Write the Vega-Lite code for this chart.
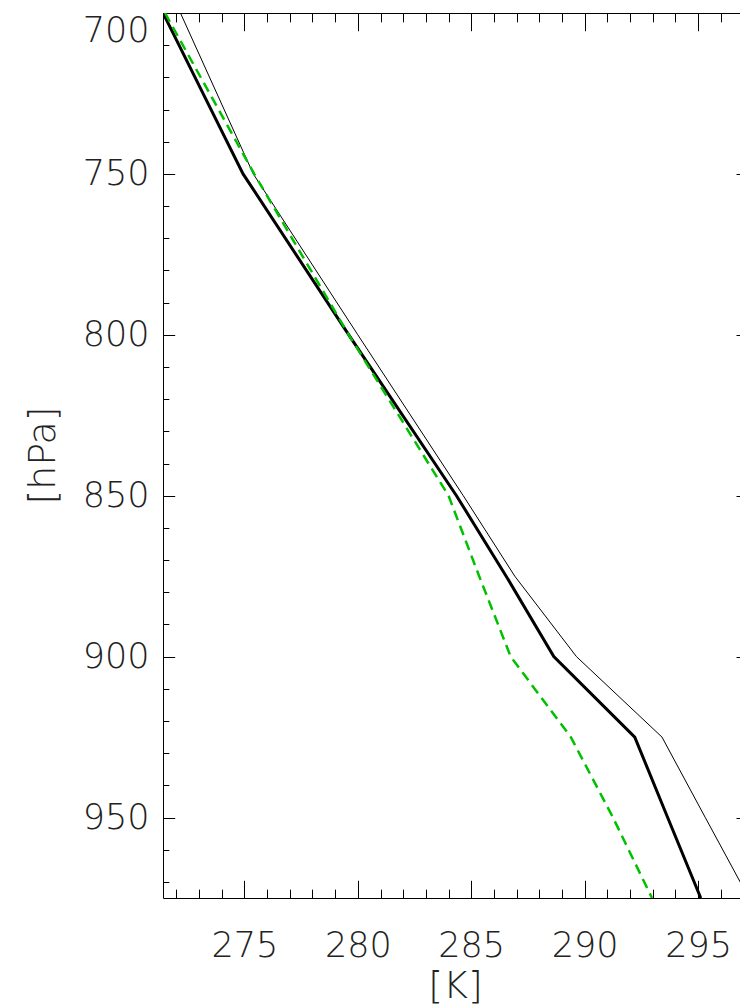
{
  "$schema": "https://vega.github.io/schema/vega-lite/v6.json",
  "autosize": {"type": "none"},
  "padding": {"left": 163, "top": 13, "right": 0, "bottom": 108},
  "width": 577,
  "height": 885,
  "background": "white",
  "config": {
    "view": {"stroke": null},
    "axis": {"grid": false, "domainColor": "#000", "tickColor": "#000", "domainWidth": 1, "tickWidth": 1, "labelFont": "DejaVu Sans", "labelFontWeight": 200, "labelFontSize": 35, "labelColor": "#222", "titleFont": "DejaVu Sans", "titleFontWeight": 200, "titleFontSize": 38, "titleColor": "#222"}
  },
  "data": {
    "values": [
      {"series": "thick", "p": 700, "T": 271.41},
      {"series": "thick", "p": 750, "T": 274.94},
      {"series": "thick", "p": 800, "T": 279.6},
      {"series": "thick", "p": 850, "T": 284.35},
      {"series": "thick", "p": 875, "T": 286.54},
      {"series": "thick", "p": 900, "T": 288.64},
      {"series": "thick", "p": 925, "T": 292.21},
      {"series": "thick", "p": 950, "T": 293.66},
      {"series": "thick", "p": 975, "T": 295.12},
      {"series": "thin", "p": 700, "T": 272.18},
      {"series": "thin", "p": 750, "T": 275.39},
      {"series": "thin", "p": 800, "T": 280.0},
      {"series": "thin", "p": 850, "T": 284.65},
      {"series": "thin", "p": 875, "T": 286.92},
      {"series": "thin", "p": 900, "T": 289.64},
      {"series": "thin", "p": 925, "T": 293.41},
      {"series": "thin", "p": 950, "T": 295.32},
      {"series": "thin", "p": 975, "T": 297.24},
      {"series": "green", "p": 700, "T": 271.5},
      {"series": "green", "p": 750, "T": 275.43},
      {"series": "green", "p": 800, "T": 279.6},
      {"series": "green", "p": 850, "T": 284.0},
      {"series": "green", "p": 875, "T": 285.35},
      {"series": "green", "p": 900, "T": 286.74},
      {"series": "green", "p": 925, "T": 289.39},
      {"series": "green", "p": 950, "T": 291.25},
      {"series": "green", "p": 975, "T": 292.97}
    ]
  },
  "encoding": {
    "x": {"field": "T", "type": "quantitative", "scale": {"domain": [271.41, 296.85], "nice": false, "zero": false}},
    "y": {"field": "p", "type": "quantitative", "scale": {"domain": [700, 975], "reverse": true, "nice": false, "zero": false}}
  },
  "resolve": {"axis": {"x": "independent", "y": "independent"}},
  "layer": [
    {
      "transform": [{"filter": "datum.series === 'thick'"}],
      "mark": {"type": "line", "color": "#000", "strokeWidth": 3, "clip": true},
      "encoding": {
        "x": {"field": "T", "type": "quantitative", "axis": {"orient": "bottom", "values": [275, 280, 285, 290, 295], "ticks": false, "domain": true, "labels": true, "labelPadding": 30, "labelFlush": false, "title": "[K]", "titleX": 292, "titleY": 99, "titleBaseline": "alphabetic", "titleAlign": "center"}},
        "y": {"field": "p", "type": "quantitative", "axis": {"orient": "left", "values": [700, 750, 800, 850, 900, 950], "ticks": false, "domain": true, "labels": true, "labelPadding": 14, "labelFlush": true, "title": "[hPa]", "titleAngle": -90, "titleX": -109, "titleY": 442, "titleBaseline": "alphabetic", "titleAlign": "center"}}
      }
    },
    {
      "transform": [{"filter": "datum.series === 'thin'"}],
      "mark": {"type": "line", "color": "#000", "strokeWidth": 1, "clip": true},
      "encoding": {
        "x": {"field": "T", "type": "quantitative", "axis": {"orient": "bottom", "values": [275, 280, 285, 290, 295], "ticks": true, "tickSize": -17.7, "domain": false, "labels": false, "title": null}},
        "y": {"field": "p", "type": "quantitative", "axis": {"orient": "left", "values": [700, 750, 800, 850, 900, 950], "ticks": true, "tickSize": -11.7, "domain": false, "labels": false, "title": null}}
      }
    },
    {
      "transform": [{"filter": "datum.series === 'green'"}],
      "mark": {"type": "line", "color": "#00c000", "strokeWidth": 2.5, "strokeDash": [10, 6], "clip": true},
      "encoding": {
        "x": {"field": "T", "type": "quantitative", "axis": {"orient": "bottom", "values": [272, 273, 274, 276, 277, 278, 279, 281, 282, 283, 284, 286, 287, 288, 289, 291, 292, 293, 294, 296], "ticks": true, "tickSize": -8.85, "domain": false, "labels": false, "title": null}},
        "y": {"field": "p", "type": "quantitative", "axis": {"orient": "left", "values": [710, 720, 730, 740, 760, 770, 780, 790, 810, 820, 830, 840, 860, 870, 880, 890, 910, 920, 930, 940, 960, 970], "ticks": true, "tickSize": -5.85, "domain": false, "labels": false, "title": null}}
      }
    },
    {
      "transform": [{"filter": "datum.series === 'thick'"}],
      "mark": {"type": "line", "strokeOpacity": 0, "clip": true},
      "encoding": {
        "x": {"field": "T", "type": "quantitative", "axis": {"orient": "top", "values": [275, 280, 285, 290, 295], "ticks": true, "tickSize": -17.7, "domain": true, "labels": false, "title": null}},
        "y": {"field": "p", "type": "quantitative", "axis": {"orient": "right", "values": [700, 750, 800, 850, 900, 950], "ticks": true, "tickSize": -4, "domain": false, "labels": false, "title": null}}
      }
    },
    {
      "transform": [{"filter": "datum.series === 'thick'"}],
      "mark": {"type": "line", "strokeOpacity": 0, "clip": true},
      "encoding": {
        "x": {"field": "T", "type": "quantitative", "axis": {"orient": "top", "values": [272, 273, 274, 276, 277, 278, 279, 281, 282, 283, 284, 286, 287, 288, 289, 291, 292, 293, 294, 296], "ticks": true, "tickSize": -8.85, "domain": false, "labels": false, "title": null}},
        "y": {"field": "p", "type": "quantitative", "axis": null}
      }
    }
  ]
}
